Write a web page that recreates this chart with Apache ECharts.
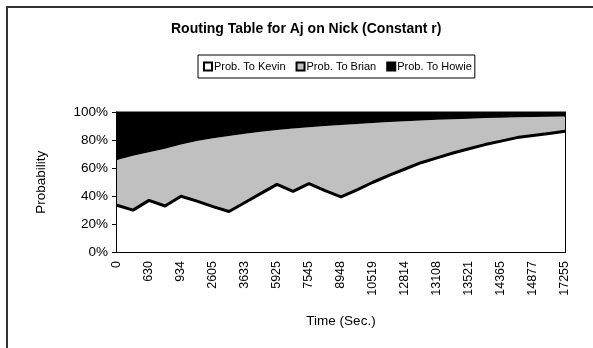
<!DOCTYPE html>
<html>
<head>
<meta charset="utf-8">
<script src="https://cdn.jsdelivr.net/npm/echarts@6/dist/echarts.min.js"></script>
<style>
  html, body { margin: 0; padding: 0; background: #fff; }
  #chart { width: 593px; height: 348px; }
</style>
</head>
<body>
<div id="chart"></div>
<script>
// Elapsed time (s) at each sample; only every other sample is labelled on the axis
const timeLabels = ['0', '', '630', '', '934', '', '2605', '', '3633', '', '5925', '', '7545', '', '8948', '',
  '10519', '', '12814', '', '13108', '', '13521', '', '14365', '', '14877', '', '17255'];

// Routing probabilities (%) for each next hop
const probKevin = [33.5, 30, 37, 33, 40, 36.5, 32.5, 29, 35.5, 42, 48.5, 43.5, 49, 44, 39.5, 44.5,
  50, 55, 59.5, 64, 67.5, 71, 74, 77, 79.5, 82, 83.5, 85, 86.5];
const probBrian = [32.5, 39, 34.5, 41, 37, 43, 49, 54.2, 49.3, 44.2, 39, 45, 40.5, 46.3, 51.5, 47.3,
  42.5, 38.2, 34.3, 30.3, 27.3, 24.2, 21.6, 19, 16.8, 14.6, 13.3, 12, 10.7];
const probHowie = [34, 31, 28.5, 26, 23, 20.5, 18.5, 16.8, 15.2, 13.8, 12.5, 11.5, 10.5, 9.7, 9, 8.2,
  7.5, 6.8, 6.2, 5.7, 5.2, 4.8, 4.4, 4, 3.7, 3.4, 3.2, 3, 2.8];

const FONT = '"Liberation Sans", Arial, sans-serif';

const chart = echarts.init(document.getElementById('chart'), null, { renderer: 'canvas' });

function areaSeries(name, data, fill, lineWidth, borderWidth) {
  return {
    name: name,
    type: 'line',
    stack: 'total',
    data: data,
    symbol: 'none',
    smooth: false,
    lineStyle: { color: '#000', width: lineWidth },
    areaStyle: { color: fill, opacity: 1 },
    itemStyle: { color: fill, borderColor: '#000', borderWidth: borderWidth }
  };
}

chart.setOption({
  animation: false,
  backgroundColor: '#fff',
  title: {
    text: 'Routing Table for Aj on Nick (Constant r)',
    left: 166,
    top: 17,
    textStyle: { fontFamily: FONT, fontSize: 14, fontWeight: 'bold', color: '#000' }
  },
  legend: {
    left: 198,
    top: 55,
    padding: [6, 3, 6, 5],
    borderColor: '#000',
    borderWidth: 1,
    icon: 'rect',
    itemWidth: 8,
    itemHeight: 8,
    itemGap: 10,
    textStyle: { fontFamily: FONT, fontSize: 11, color: '#000', padding: [0, 0, 0, -3] },
    data: ['Prob. To Kevin', 'Prob. To Brian', 'Prob. To Howie']
  },
  grid: {
    left: 117,
    right: 28,
    top: 112.5,
    bottom: 96,
    show: true,
    borderColor: '#000',
    borderWidth: 2,
    backgroundColor: 'transparent'
  },
  xAxis: {
    type: 'category',
    data: timeLabels,
    boundaryGap: false,
    name: 'Time (Sec.)',
    nameLocation: 'middle',
    nameGap: 62,
    nameTextStyle: { fontFamily: FONT, fontSize: 13.5, color: '#000' },
    axisLine: { lineStyle: { color: '#000', width: 2 } },
    axisTick: { show: false },
    axisLabel: {
      interval: 0,
      rotate: 90,
      margin: 9,
      fontFamily: FONT,
      fontSize: 12.5,
      color: '#000'
    },
    splitLine: { show: false }
  },
  yAxis: {
    type: 'value',
    min: 0,
    max: 100,
    interval: 20,
    name: 'Probability',
    nameLocation: 'middle',
    nameGap: 69,
    nameTextStyle: { fontFamily: FONT, fontSize: 13.5, color: '#000' },
    axisLine: { show: true, lineStyle: { color: '#000', width: 2 } },
    axisTick: { show: true, inside: false, length: 5, lineStyle: { color: '#000', width: 1 } },
    axisLabel: { formatter: '{value}%', margin: 9, fontFamily: FONT, fontSize: 13.5, color: '#000' },
    splitLine: { show: false }
  },
  series: [
    areaSeries('Prob. To Kevin', probKevin, '#ffffff', 3, 2),
    areaSeries('Prob. To Brian', probBrian, '#c0c0c0', 0, 1.5),
    areaSeries('Prob. To Howie', probHowie, '#000000', 0, 1)
  ],
  graphic: [
    {
      type: 'polyline',
      shape: { points: [[7, 348], [7, 7], [593, 7]] },
      style: { stroke: '#333', lineWidth: 2, fill: null },
      silent: true
    }
  ]
});
</script>
</body>
</html>
